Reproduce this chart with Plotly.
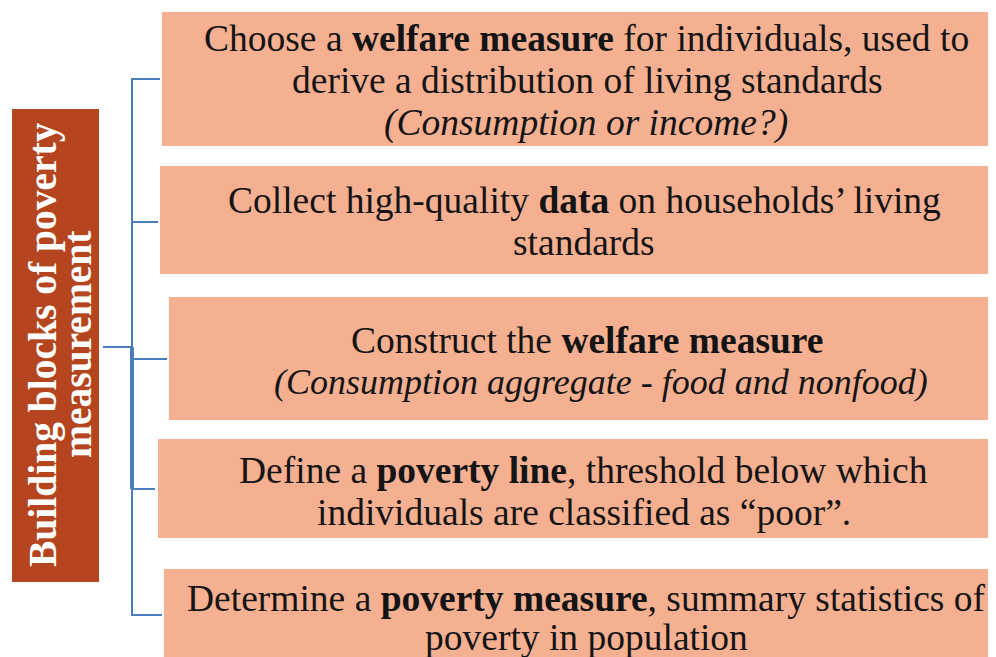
import plotly.graph_objects as go

W, H = 996, 657
OFF = 8  # page body margin of the browser

# Diagram content
title_lines = ["Building blocks of poverty", "measurement"]
box_lines = [
    ["Choose a <b>welfare measure</b> for individuals, used to",
     "derive a distribution of living standards",
     "<i>(Consumption or income?)</i>"],
    ["Collect high-quality <b>data</b> on households’ living",
     "standards"],
    ["Construct the <b>welfare measure</b>",
     "<i>(Consumption aggregate - food and nonfood)</i>"],
    ["Define a <b>poverty line</b>, threshold below which",
     "individuals are classified as “poor”."],
    ["Determine a <b>poverty measure</b>, summary statistics of",
     "poverty in population"],
]

# Layout geometry (pixels)
box_left = [162, 160, 169, 158, 164]
box_top = [12, 166, 297, 439, 569]
box_bottom = [146, 274, 420, 538, 670]
line_y = [[38, 80, 123], [200, 242], [340, 382], [470, 512], [598, 637]]
line_x = [[586, 587, 586], [584, 584], [587, 601], [583, 584], [586, 586]]
tick_y = [79, 222, 359, 489, 615]
tick_end = [160, 158, 167, 155, 162]

BAR_COLOR = "#B4451E"
BOX_COLOR = "#F4B091"
LINE_COLOR = "#4A7DBA"
FONT = "Liberation Serif, Times New Roman, serif"

fig = go.Figure()
shapes = []
annotations = []

# Left title bar
shapes.append(dict(type="rect", x0=12, x1=99, y0=109, y1=582,
                   fillcolor=BAR_COLOR, line=dict(width=0), layer="below"))
for tx, t in zip([43, 78], title_lines):
    annotations.append(dict(x=tx, y=345, xref="x", yref="y", showarrow=False,
                            text="<b>" + t + "</b>", textangle=-90,
                            font=dict(family=FONT, size=39.5, color="white")))

# Boxes
for i, lines in enumerate(box_lines):
    shapes.append(dict(type="rect", x0=box_left[i], x1=W + 20, y0=box_top[i], y1=box_bottom[i],
                       fillcolor=BOX_COLOR, line=dict(width=0), layer="below"))
    for j, t in enumerate(lines):
        size = 36 if (i == 2 and j == 1) else 37.5
        annotations.append(dict(x=line_x[i][j], y=line_y[i][j], xref="x", yref="y",
                                showarrow=False, text=t,
                                font=dict(family=FONT, size=size, color="#141414")))

# Connector lines
VX = 132
shapes.append(dict(type="line", x0=VX, x1=VX, y0=tick_y[0], y1=tick_y[-1],
                   line=dict(color=LINE_COLOR, width=2)))
shapes.append(dict(type="line", x0=VX, x1=VX, y0=347, y1=tick_y[3],
                   line=dict(color=LINE_COLOR, width=4)))
shapes.append(dict(type="line", x0=103, x1=VX, y0=347, y1=347,
                   line=dict(color=LINE_COLOR, width=2)))
for i in range(5):
    shapes.append(dict(type="line", x0=VX - 1, x1=tick_end[i], y0=tick_y[i], y1=tick_y[i],
                       line=dict(color=LINE_COLOR, width=2)))

fig.update_layout(
    width=W - OFF, height=H - OFF,
    margin=dict(l=0, r=0, t=0, b=0),
    paper_bgcolor="white", plot_bgcolor="white",
    xaxis=dict(range=[OFF, W], visible=False, fixedrange=True),
    yaxis=dict(range=[H, OFF], visible=False, fixedrange=True),
    shapes=shapes, annotations=annotations,
    showlegend=False,
)

fig.write_html("out.html")
